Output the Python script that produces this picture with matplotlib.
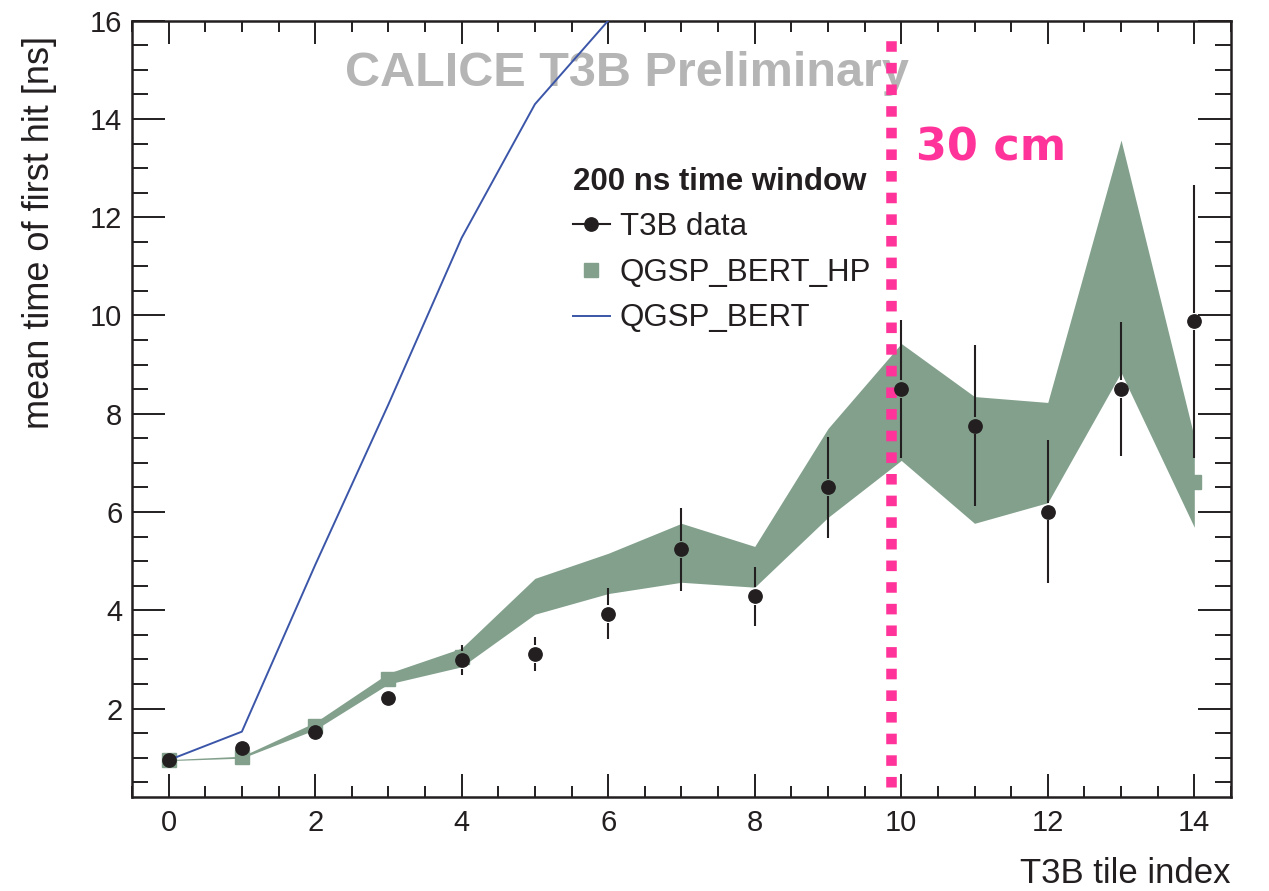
import numpy as np
import matplotlib
matplotlib.use("Agg")
import matplotlib.pyplot as plt
from matplotlib.lines import Line2D
from matplotlib.ticker import MultipleLocator

plt.rcParams['font.family'] = ['Liberation Sans', 'DejaVu Sans']

# ---------------- data ----------------
tile_index = [0, 1, 2, 3, 4, 5, 6, 7, 8, 9, 10, 11, 12, 13, 14]

t3b_mean = [0.96, 1.19, 1.52, 2.21, 2.99, 3.11, 3.93, 5.24, 4.29, 6.50, 8.50, 7.76, 6.01, 8.50, 9.88]
t3b_err = [0.05, 0.08, 0.08, 0.12, 0.30, 0.35, 0.52, 0.85, 0.60, 1.02, 1.40, 1.63, 1.46, 1.37, 2.78]

hp_mean = [0.95, 1.01, 1.645, 2.61, 3.04, 4.285, 4.75, 5.17, 4.885, 6.795, 8.24, 7.06, 7.21, 11.205, 6.605]
hp_err = [0.01, 0.02, 0.075, 0.11, 0.19, 0.365, 0.41, 0.60, 0.415, 0.905, 1.19, 1.29, 1.02, 2.365, 0.915]

bert_index = [0, 1, 2, 3, 4, 5, 6]
bert_mean = [0.95, 1.53, 4.92, 8.19, 11.58, 14.3, 16.0]

cut_x = 9.86          # "30 cm" marker position
cut_y = (0.4, 15.7)

# ---------------- style ----------------
DARK = '#231f20'
GREEN = '#82a08c'
BLUE = '#3b56a8'
PINK = '#ff3399'
GREY = '#b4b5b4'

fig = plt.figure(figsize=(12.69, 8.91), dpi=100)
ax = fig.add_axes([0.104, 0.1055, 0.866, 0.8713])

x = np.array(tile_index, dtype=float)
hm = np.array(hp_mean)
he = np.array(hp_err)

# watermark text (behind the curves)
ax.text(0.194, 0.916, 'CALICE T3B Preliminary', transform=ax.transAxes,
        fontsize=35, fontweight='bold', color=GREY, ha='left', va='baseline',
        zorder=1, clip_on=False)

# QGSP_BERT_HP band + square markers
ax.fill_between(x, hm - he, hm + he, color=GREEN, lw=0, zorder=2)
ax.plot(x, hm, ls='none', marker='s', ms=9.4, color=GREEN, mec=GREEN, zorder=2)

# QGSP_BERT line
ax.plot(bert_index, bert_mean, color=BLUE, lw=1.4, zorder=3)

# 30 cm marker
ax.plot([cut_x, cut_x], list(cut_y), color=PINK, lw=7.6,
        linestyle=(0, (1.0, 1.05)), dash_capstyle='butt', zorder=4)
ax.text(10.2, 13.16, '30 cm', color=PINK, fontsize=32, fontweight='bold',
        family='DejaVu Sans', ha='left', va='baseline', zorder=4)

# T3B data with error bars (gap around the marker like ROOT)
gap = 0.18
ym = np.array(t3b_mean)
ye = np.array(t3b_err)
for xi, yi, ei in zip(x, ym, ye):
    if ei > gap:
        ax.vlines(xi, yi + gap, yi + ei, color=DARK, lw=1.5, zorder=5)
        ax.vlines(xi, yi - ei, yi - gap, color=DARK, lw=1.5, zorder=5)
ax.plot(x, ym, ls='none', marker='o', ms=9.6, color=DARK, zorder=6)

# axes
ax.set_xlim(-0.5, 14.5)
ax.set_ylim(0.2, 16)
ax.xaxis.set_major_locator(MultipleLocator(2))
ax.xaxis.set_minor_locator(MultipleLocator(0.5))
ax.yaxis.set_major_locator(MultipleLocator(2))
ax.yaxis.set_minor_locator(MultipleLocator(0.5))
ax.tick_params(axis='both', which='both', direction='in', top=True, right=True,
               width=1.4, color=DARK, labelsize=21, labelcolor=DARK)
ax.tick_params(axis='x', which='major', length=16.5, pad=9)
ax.tick_params(axis='x', which='minor', length=8)
ax.tick_params(axis='y', which='major', length=24, pad=7)
ax.tick_params(axis='y', which='minor', length=11.5)
for s in ax.spines.values():
    s.set_linewidth(1.8)
    s.set_color(DARK)

ax.set_xlabel('T3B tile index', fontsize=25, loc='right', labelpad=14, color=DARK)
ax.set_ylabel('mean time of first hit [ns]', fontsize=26, loc='top', color=DARK)
ax.yaxis.set_label_coords(-0.068, 0.98)

# legend
handles = [
    Line2D([], [], color=DARK, marker='o', ms=9.6, lw=1.5),
    Line2D([], [], color=GREEN, marker='s', ms=10, ls='none'),
    Line2D([], [], color=BLUE, lw=1.4),
]
labels = ['T3B data', 'QGSP_BERT_HP', 'QGSP_BERT']
leg = ax.legend(handles, labels, loc='upper left', bbox_to_anchor=(0.401, 0.812),
                frameon=False, fontsize=22.5, title='200 ns time window',
                title_fontproperties={'weight': 'bold', 'size': 22.5},
                alignment='left', handlelength=1.2, handletextpad=0.3,
                labelspacing=0.5, borderpad=0, borderaxespad=0)
for t in leg.get_texts():
    t.set_color(DARK)
leg.get_title().set_color(DARK)

fig.savefig('out.png', dpi=100)
